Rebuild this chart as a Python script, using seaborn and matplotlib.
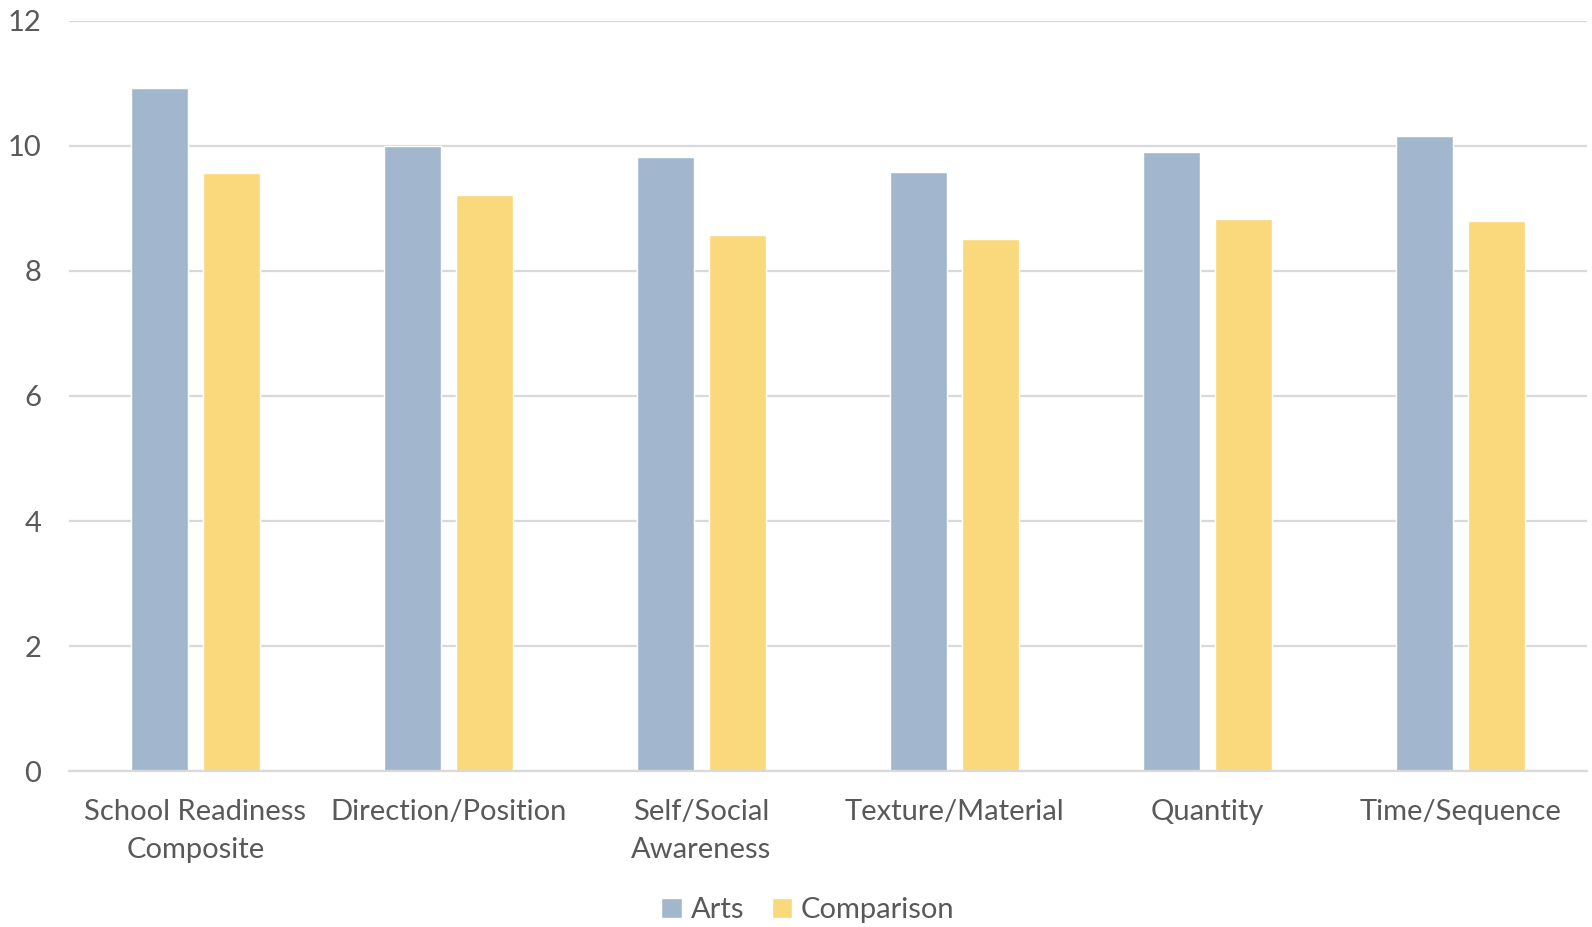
import matplotlib
matplotlib.use("Agg")
import matplotlib.pyplot as plt
import seaborn as sns
import pandas as pd

categories = ["School Readiness\nComposite", "Direction/Position", "Self/Social\nAwareness",
              "Texture/Material", "Quantity", "Time/Sequence"]
arts = [10.93, 10.0, 9.82, 9.58, 9.90, 10.15]
comparison = [9.57, 9.21, 8.57, 8.51, 8.83, 8.80]
groups = ["Arts", "Comparison"]
yticks = [0, 2, 4, 6, 8, 10, 12]

df = pd.DataFrame({
    "category": categories * 2,
    "score": arts + comparison,
    "group": [groups[0]] * len(categories) + [groups[1]] * len(categories),
})

sns.set_theme(style="white")
plt.rcParams["font.family"] = ["Lato", "DejaVu Sans"]
text_color = "#595959"
grid_color = "#D9D9D9"
palette = {"Arts": "#A2B7CD", "Comparison": "#F9D97B"}

fig = plt.figure(figsize=(15.92, 9.27), dpi=100)
ax = fig.add_axes([69 / 1592, (927 - 771.3) / 927, (1587 - 69) / 1592, 750.6 / 927])

sns.barplot(data=df, x="category", y="score", hue="group", palette=palette,
            width=0.572, gap=0.217, saturation=1, ax=ax, zorder=3)

ax.set_ylim(0, 12)
ax.set_xlim(-0.5, len(categories) - 0.5)
ax.set_yticks(yticks)
ax.set_yticklabels([str(v) for v in yticks])
ax.yaxis.grid(True, color=grid_color, linewidth=1.6, zorder=0)
ax.set_axisbelow(True)
for side in ["top", "right", "left"]:
    ax.spines[side].set_visible(False)
ax.spines["bottom"].set_color(grid_color)
ax.spines["bottom"].set_linewidth(1.6)
ax.spines["bottom"].set_zorder(4)
ax.set_xlabel("")
ax.set_ylabel("")
ax.tick_params(axis="y", length=0, pad=20, labelsize=21, labelcolor=text_color)
ax.tick_params(axis="x", length=0, pad=20, labelsize=21, labelcolor=text_color)
for lbl in ax.get_xticklabels():
    lbl.set_linespacing(1.55)

ax.legend_.remove()
handles, labels = ax.get_legend_handles_labels()
fig.legend(handles, labels, loc="center", bbox_to_anchor=(808 / 1592, (927 - 910) / 927),
           ncol=2, frameon=False, fontsize=21, labelcolor=text_color,
           handlelength=0.7, handleheight=0.7, handletextpad=0.3, columnspacing=0.95)

fig.savefig("out.png", dpi=100, facecolor="white")
